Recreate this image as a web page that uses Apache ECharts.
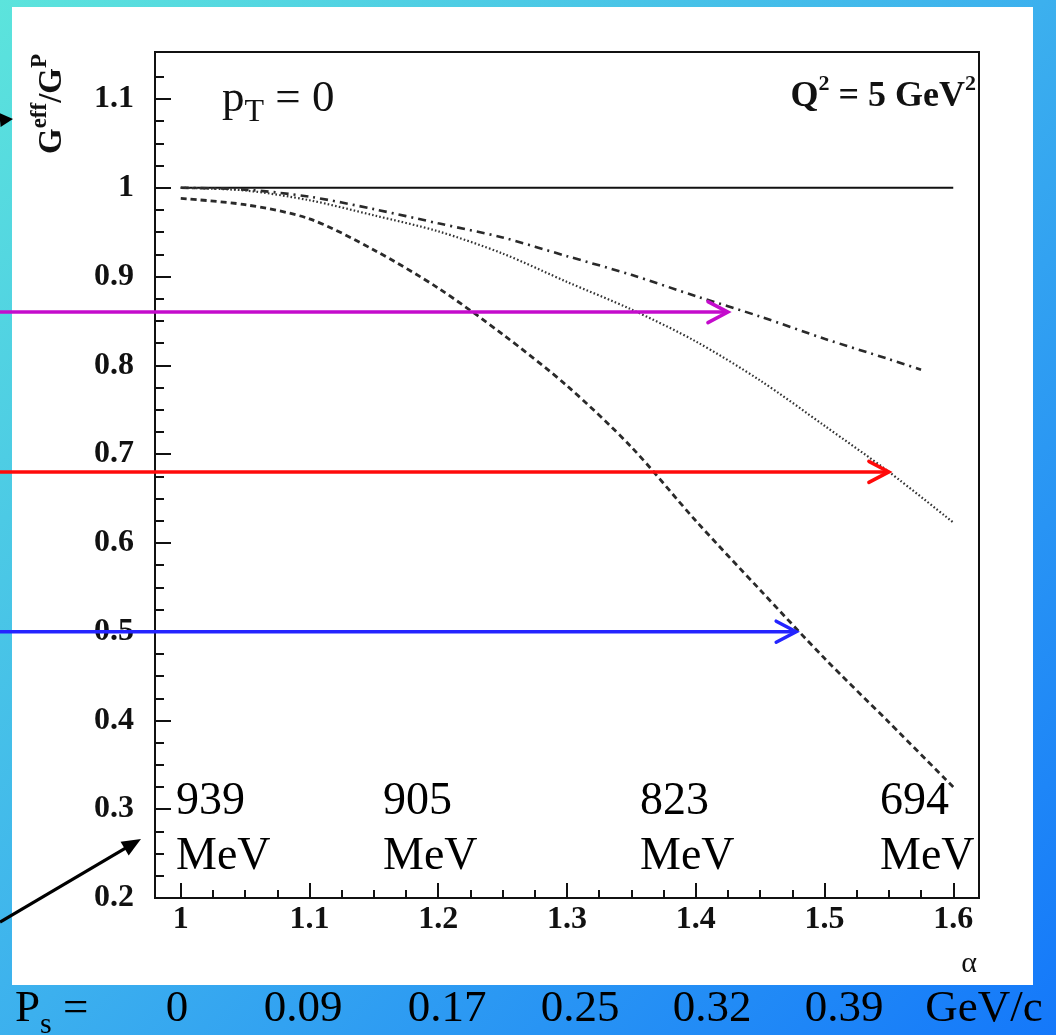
<!DOCTYPE html>
<html>
<head>
<meta charset="utf-8">
<script src="https://cdn.jsdelivr.net/npm/echarts@6/dist/echarts.min.js"></script>
<style>
  html, body { margin: 0; padding: 0; width: 1056px; height: 1035px; overflow: hidden; }
  body { background: linear-gradient(135deg, #5ce4dc 0%, #3cb0ee 50%, #1478fa 100%); }
  #chart { width: 1056px; height: 1035px; }
</style>
</head>
<body>
<div id="chart"></div>
<script>
// ---- data ----
const alphaGrid     = [1.00, 1.05, 1.10, 1.15, 1.20, 1.25, 1.30, 1.35, 1.40, 1.45, 1.50, 1.55, 1.60];
const dashedRatio   = [0.988, 0.981, 0.965, 0.930, 0.887, 0.835, 0.777, 0.708, 0.625, 0.547, 0.470, 0.398, 0.325];
const dottedRatio   = [1.000, 0.997, 0.986, 0.969, 0.951, 0.926, 0.894, 0.863, 0.827, 0.783, 0.732, 0.680, 0.623];
const dashDotAlpha  = [1.00, 1.05, 1.10, 1.15, 1.20, 1.25, 1.30, 1.35, 1.40, 1.45, 1.50, 1.55, 1.575];
const dashDotRatio  = [1.000, 0.998, 0.990, 0.976, 0.960, 0.944, 0.923, 0.902, 0.878, 0.855, 0.830, 0.807, 0.795];
const unityAlpha    = [1.0, 1.6];
const unityRatio    = [1.0, 1.0];

const xMajorTicks = [1.0, 1.1, 1.2, 1.3, 1.4, 1.5, 1.6];
const yMajorTicks = [0.2, 0.3, 0.4, 0.5, 0.6, 0.7, 0.8, 0.9, 1.0, 1.1];

// reference levels marked by the coloured arrows, and where they meet a curve
const arrowRatio    = [0.86, 0.68, 0.50];
const arrowTipAlpha = [1.425, 1.55, 1.478];

const massLabels     = ['939', '905', '823', '694'];
const momentumLabels = ['0', '0.09', '0.17', '0.25', '0.32', '0.39'];

// ---- styling ----
const serif = '"Liberation Serif", "Times New Roman", serif';
const ink = '#111';
const arrowColors = ['#c40ccc', '#ff0a0a', '#2424ff'];
const massLabelX = [176, 383, 640, 880];
const momentumLabelX = [177, 303, 447, 580, 712, 844];

function minorBetween(majors, step, lo, hi) {
  const out = [];
  for (let v = lo; v <= hi + 1e-9; v += step) {
    const r = Math.round(v * 1000) / 1000;
    if (!majors.some(m => Math.abs(m - r) < 1e-6)) out.push(r);
  }
  return out;
}
const xMinorTicks = minorBetween(xMajorTicks, 0.025, 1.0, 1.6);
const yMinorTicks = minorBetween(yMajorTicks, 0.025, 0.2, 1.125);

const zip = (xs, ys) => xs.map((x, i) => [x, ys[i]]);
const fmt = v => String(Math.round(v * 10) / 10);

const X_MIN = 0.98, X_MAX = 1.62, Y_MIN = 0.2, Y_MAX = 1.153;

function valueAxis(dim, majors, minors) {
  const common = { type: 'value', gridIndex: 0, splitLine: { show: false } };
  const range = dim === 'x' ? { min: X_MIN, max: X_MAX, position: 'bottom' }
                            : { min: Y_MIN, max: Y_MAX, position: 'left' };
  const majorLen = dim === 'x' ? 15 : 16;
  const minorLen = dim === 'x' ? 8 : 9;
  return [
    Object.assign({}, common, range, {
      axisLine: { show: true, onZero: false, lineStyle: { color: ink, width: 2 } },
      axisTick: { show: true, inside: true, length: majorLen, customValues: majors,
                  lineStyle: { color: ink, width: 2 } },
      axisLabel: { show: true, customValues: majors, formatter: fmt,
                   margin: dim === 'x' ? 6 : 21,
                   fontFamily: serif, fontWeight: 'bold', fontSize: 32, color: ink }
    }),
    Object.assign({}, common, range, {
      axisLine: { show: false, onZero: false },
      axisTick: { show: true, inside: true, length: minorLen, customValues: minors,
                  lineStyle: { color: ink, width: 2 } },
      axisLabel: { show: false }
    })
  ];
}

const chart = echarts.init(document.getElementById('chart'), null, { renderer: 'canvas' });

const option = {
  animation: false,
  backgroundColor: 'transparent',
  grid: { left: 155, top: 52, right: 77, bottom: 137, show: true,
          borderColor: ink, borderWidth: 2, backgroundColor: 'transparent' },
  xAxis: valueAxis('x', xMajorTicks, xMinorTicks),
  yAxis: valueAxis('y', yMajorTicks, yMinorTicks),
  series: [
    { name: 'unity', type: 'line', xAxisIndex: 0, yAxisIndex: 0, data: zip(unityAlpha, unityRatio),
      showSymbol: false, silent: true, lineStyle: { color: ink, width: 2 } },
    { name: 'dash-dot', type: 'line', xAxisIndex: 0, yAxisIndex: 0, data: zip(dashDotAlpha, dashDotRatio),
      showSymbol: false, silent: true, smooth: 0.3,
      lineStyle: { color: '#2a2a2a', width: 2.6, type: [8, 5, 2, 5] } },
    { name: 'dotted', type: 'line', xAxisIndex: 0, yAxisIndex: 0, data: zip(alphaGrid, dottedRatio),
      showSymbol: false, silent: true, smooth: 0.3,
      lineStyle: { color: '#333', width: 2.2, type: [1.6, 2.2] } },
    { name: 'dashed', type: 'line', xAxisIndex: 0, yAxisIndex: 0, data: zip(alphaGrid, dashedRatio),
      showSymbol: false, silent: true, smooth: 0.3,
      lineStyle: { color: '#2a2a2a', width: 2.8, type: [6, 4] } }
  ]
};
chart.setOption(option);

// ---- annotations ----
function filledArrow(x1, y1, x2, y2, width, headLen, headHalf) {
  const dx = x2 - x1, dy = y2 - y1, len = Math.hypot(dx, dy);
  const ux = dx / len, uy = dy / len, nx = -uy, ny = ux;
  const bx = x2 - ux * headLen, by = y2 - uy * headLen;
  return [
    { type: 'line', z: 30, shape: { x1, y1, x2: bx + ux * 2, y2: by + uy * 2 },
      style: { stroke: '#000', lineWidth: width } },
    { type: 'polygon', z: 30,
      shape: { points: [[x2, y2], [bx + nx * headHalf, by + ny * headHalf], [bx - nx * headHalf, by - ny * headHalf]] },
      style: { fill: '#000' } }
  ];
}

const graphics = [
  // white page behind the plot
  { type: 'rect', z: -100, shape: { x: 12, y: 7, width: 1021, height: 978 }, style: { fill: '#ffffff' } },

  // y-axis title
  { type: 'text', z: 10, x: 52, y: 104, rotation: Math.PI / 2,
    style: { text: 'G{sup|eff}/G{sup|P}', align: 'center', verticalAlign: 'middle',
             fontFamily: serif, fontWeight: 'bold', fontSize: 33, lineHeight: 46, fill: ink,
             rich: { sup: { fontFamily: serif, fontWeight: 'bold', fontSize: 23, lineHeight: 22,
                            verticalAlign: 'top', fill: ink } } } },

  // x-axis title
  { type: 'text', z: 10, x: 969, y: 964,
    style: { text: 'α', align: 'center', verticalAlign: 'middle',
             fontFamily: serif, fontSize: 30, fill: ink } },

  // transverse momentum
  { type: 'text', z: 10, x: 222, y: 99,
    style: { text: 'p{sub|T} = 0', align: 'left', verticalAlign: 'middle',
             fontFamily: serif, fontSize: 45, lineHeight: 60, fill: ink,
             rich: { sub: { fontFamily: serif, fontSize: 32, lineHeight: 32,
                            verticalAlign: 'bottom', fill: ink } } } },

  // momentum transfer
  { type: 'text', z: 10, x: 976, y: 97,
    style: { text: 'Q{sup|2} = 5 GeV{sup|2}', align: 'right', verticalAlign: 'middle',
             fontFamily: serif, fontWeight: 'bold', fontSize: 36, lineHeight: 48, fill: ink,
             rich: { sup: { fontFamily: serif, fontWeight: 'bold', fontSize: 22, lineHeight: 22,
                            verticalAlign: 'top', fill: ink } } } },

  // momentum row on the backdrop
  { type: 'text', z: 10, x: 15, y: 1009,
    style: { text: 'P{sub|s} =', align: 'left', verticalAlign: 'middle',
             fontFamily: serif, fontSize: 45, lineHeight: 62, fill: '#000',
             rich: { sub: { fontFamily: serif, fontSize: 30, lineHeight: 30,
                            verticalAlign: 'bottom', fill: '#000' } } } },
  { type: 'text', z: 10, x: 984, y: 1009,
    style: { text: 'GeV/c', align: 'center', verticalAlign: 'middle',
             fontFamily: serif, fontSize: 45, fill: '#000' } }
];

momentumLabels.forEach((t, i) => {
  graphics.push({ type: 'text', z: 10, x: momentumLabelX[i], y: 1009,
    style: { text: t, align: 'center', verticalAlign: 'middle',
             fontFamily: serif, fontSize: 45, fill: '#000' } });
});

massLabels.forEach((t, i) => {
  graphics.push({ type: 'text', z: 10, x: massLabelX[i], y: 774,
    style: { text: t + '\nMeV', align: 'left', verticalAlign: 'top',
             fontFamily: serif, fontSize: 46, lineHeight: 55, fill: '#000' } });
});

// coloured level arrows, tips placed through the axes
arrowRatio.forEach((r, i) => {
  const px = chart.convertToPixel({ xAxisIndex: 0 }, arrowTipAlpha[i]);
  const py = chart.convertToPixel({ yAxisIndex: 0 }, r);
  const c = arrowColors[i];
  graphics.push({ type: 'line', z: 20, shape: { x1: 0, y1: py, x2: px - 1, y2: py },
                  style: { stroke: c, lineWidth: 3.5 } });
  graphics.push({ type: 'polyline', z: 20,
                  shape: { points: [[px - 20, py - 10.5], [px, py], [px - 20, py + 10.5]] },
                  style: { stroke: c, lineWidth: 3.5, fill: null, lineCap: 'round', lineJoin: 'miter' } });
});

// black pointer arrows at the page edge
graphics.push(...filledArrow(-12, 121, 13, 119, 3, 13, 7));
graphics.push(...filledArrow(0, 922, 141, 839, 3.2, 19, 8));

chart.setOption({ graphic: graphics });
</script>
</body>
</html>
